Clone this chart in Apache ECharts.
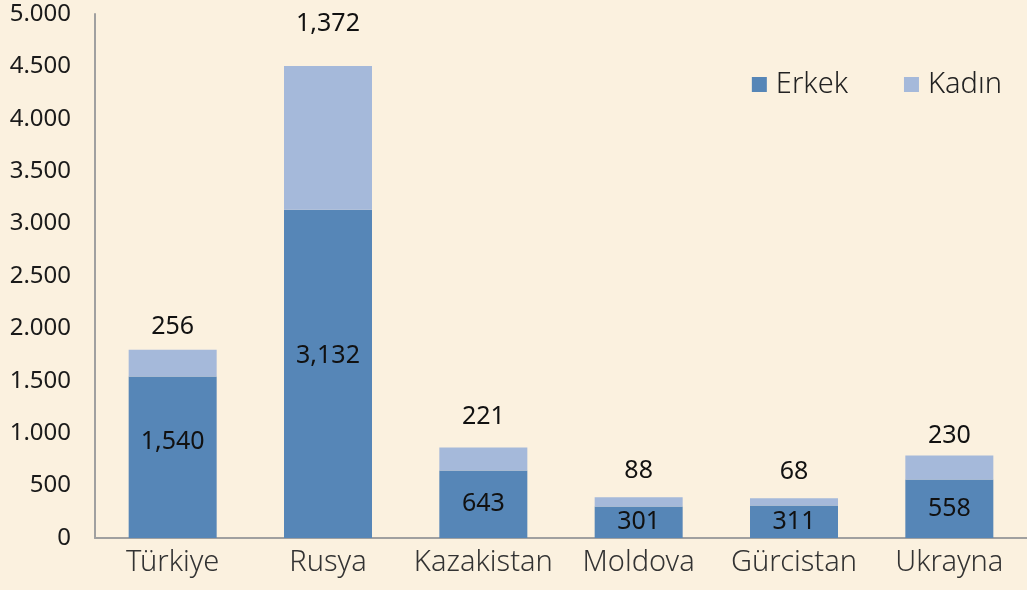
<!DOCTYPE html>
<html>
<head>
<meta charset="utf-8">
<script src="https://cdn.jsdelivr.net/npm/echarts@6/dist/echarts.min.js"></script>
<style>
  html, body { margin: 0; padding: 0; background: #FBF1DF; }
  #main { width: 1027px; height: 590px; }
</style>
</head>
<body>
<div id="main"></div>
<script>
var countries = ["Türkiye", "Rusya", "Kazakistan", "Moldova", "Gürcistan", "Ukrayna"];
var erkek = [1540, 3132, 643, 301, 311, 558];
var kadin = [256, 1372, 221, 88, 68, 230];

// label placement as in the source picture
var topLabelGap = [10, 30, 18, 14, 14, 7];
var insideLabelShift = [-15, -18, 0, 0, 0, 0];

var chart = echarts.init(document.getElementById("main"));

function fmtDot(v) {
  return String(v).replace(/\B(?=(\d{3})+(?!\d))/g, ".");
}
function fmtComma(v) {
  return String(v).replace(/\B(?=(\d{3})+(?!\d))/g, ",");
}

var font = "'Noto Sans', sans-serif";

var erkekData = erkek.map(function (v, i) {
  return { value: v, label: { offset: [0, insideLabelShift[i]] } };
});
var kadinData = kadin.map(function (v, i) {
  return { value: v, label: { distance: topLabelGap[i] } };
});

var option = {
  backgroundColor: "#FBF1DF",
  textStyle: { fontFamily: font },
  grid: { left: 95, right: 0, top: 14, bottom: 52 },
  legend: {
    data: ["Erkek", "Kadın"],
    top: 65,
    right: 20,
    itemWidth: 15,
    itemHeight: 15,
    itemGap: 56,
    icon: "rect",
    textStyle: { fontSize: 29, color: "#222", fontWeight: 300, fontFamily: font, padding: [0, 0, 0, 4] }
  },
  xAxis: {
    type: "category",
    data: countries,
    axisLine: { lineStyle: { color: "#A0A0A0", width: 2 } },
    axisTick: { show: false },
    axisLabel: { interval: 0, fontSize: 29, color: "#333", margin: 10, fontWeight: 300 }
  },
  yAxis: {
    type: "value",
    min: 0,
    max: 5000,
    interval: 500,
    axisLine: { show: true, lineStyle: { color: "#A0A0A0", width: 2 } },
    axisTick: { show: false },
    splitLine: { show: false },
    axisLabel: {
      fontSize: 24,
      color: "#1a1a1a",
      margin: 24,
      formatter: fmtDot
    }
  },
  series: [
    {
      name: "Erkek",
      type: "bar",
      stack: "total",
      data: erkekData,
      barWidth: 88,
      itemStyle: { color: "#5686B7" },
      label: {
        show: true,
        position: "inside",
        fontSize: 25,
        color: "#111",
        formatter: function (p) { return fmtComma(p.value); }
      }
    },
    {
      name: "Kadın",
      type: "bar",
      stack: "total",
      data: kadinData,
      barWidth: 88,
      itemStyle: { color: "#A5B9DA" },
      label: {
        show: true,
        position: "top",
        fontSize: 25,
        color: "#111",
        formatter: function (p) { return fmtComma(p.value); }
      }
    }
  ]
};

chart.setOption(option);
</script>
</body>
</html>
